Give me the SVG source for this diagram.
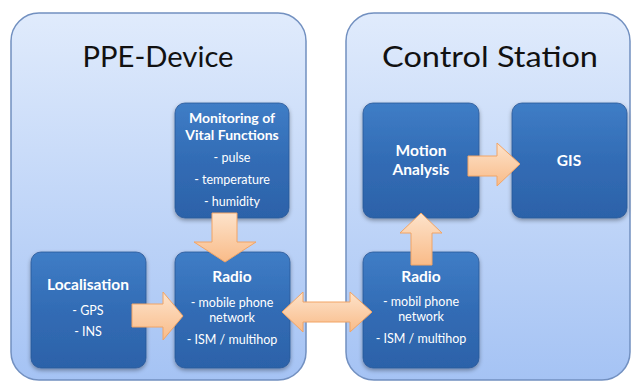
<svg xmlns="http://www.w3.org/2000/svg" width="632" height="382" viewBox="0 0 632 382">
<defs>
<linearGradient id="cg" x1="0" y1="0" x2="0" y2="1">
<stop offset="0" stop-color="#e0ebfc"/>
<stop offset="1" stop-color="#a5c3f4"/>
</linearGradient>
<linearGradient id="ng" x1="0" y1="0" x2="0" y2="1">
<stop offset="0" stop-color="#3f7dc6"/>
<stop offset="0.5" stop-color="#326cb5"/>
<stop offset="1" stop-color="#2c62a9"/>
</linearGradient>
<linearGradient id="ag" x1="0" y1="0" x2="0" y2="1">
<stop offset="0" stop-color="#fde3cb"/>
<stop offset="1" stop-color="#f9bb88"/>
</linearGradient>
<filter id="sh" x="-20%" y="-20%" width="140%" height="140%">
<feDropShadow dx="0" dy="2" stdDeviation="2" flood-color="#000" flood-opacity="0.35"/>
</filter>
</defs>
<style>
.cont{fill:url(#cg);stroke:#7290c0;stroke-width:1.5}
.node{fill:url(#ng);stroke:#2a5897;stroke-width:0.8;filter:url(#sh)}
.arr{fill:url(#ag);stroke:#f2a464;stroke-width:1}
.ttl{font-family:Lato,"Liberation Sans",sans-serif;font-size:28px;fill:#111;text-anchor:middle}
.h{font-family:Lato,"Liberation Sans",sans-serif;font-size:14px;font-weight:bold;fill:#fff;text-anchor:middle}
.hb{font-family:Lato,"Liberation Sans",sans-serif;font-size:15.5px;font-weight:bold;fill:#fff;text-anchor:middle}
.t{font-family:Lato,"Liberation Sans",sans-serif;font-size:12.5px;fill:#fff;text-anchor:middle}
</style>
<rect width="632" height="382" fill="#fff"/>
<g id="ppe-device">
<rect class="cont" x="11" y="13" width="295" height="367" rx="28"/>
<text class="ttl" x="158" y="67" textLength="151" lengthAdjust="spacingAndGlyphs">PPE-Device</text>
</g>
<g id="control-station">
<rect class="cont" x="346" y="13" width="284" height="367" rx="28"/>
<text class="ttl" x="490" y="67" textLength="216" lengthAdjust="spacingAndGlyphs">Control Station</text>
</g>
<g id="monitoring">
<rect class="node" x="175" y="103" width="114" height="115" rx="10"/>
<text class="h" x="232" y="123">Monitoring of</text>
<text class="h" x="232" y="140">Vital Functions</text>
<text class="t" x="232" y="162">-  pulse</text>
<text class="t" x="232" y="184">- temperature</text>
<text class="t" x="232" y="206">- humidity</text>
</g>
<g id="localisation">
<rect class="node" x="31" y="252" width="115" height="116" rx="10"/>
<text class="hb" x="88" y="290">Localisation</text>
<text class="t" x="88" y="315">- GPS</text>
<text class="t" x="88" y="336">- INS</text>
</g>
<g id="radio-ppe">
<rect class="node" x="175" y="252" width="115" height="116" rx="10"/>
<text class="hb" x="232" y="282">Radio</text>
<text class="t" x="232" y="307">- mobile phone</text>
<text class="t" x="232" y="322">network</text>
<text class="t" x="232" y="344">- ISM / multihop</text>
</g>
<g id="motion-analysis">
<rect class="node" x="363" y="103" width="116" height="115" rx="10"/>
<text class="hb" x="421" y="156">Motion</text>
<text class="hb" x="421" y="175">Analysis</text>
</g>
<g id="gis">
<rect class="node" x="512" y="103" width="115" height="115" rx="10"/>
<text class="hb" x="569" y="166">GIS</text>
</g>
<g id="radio-cs">
<rect class="node" x="363" y="252" width="116" height="116" rx="10"/>
<text class="hb" x="421" y="282">Radio</text>
<text class="t" x="421" y="306">- mobil phone</text>
<text class="t" x="421" y="321">network</text>
<text class="t" x="421" y="343">- ISM / multihop</text>
</g>
<g id="connectors">
<path class="arr" d="M212,213 H237 V242 H256 L225,262 L194,242 H212 Z"/>
<path class="arr" d="M132,304 H163 V292 L183,316 L163,340 V327 H132 Z"/>
<path class="arr" d="M282,312 L303,292 V302 H350 V292 L372,312 L350,332 V322 H303 V332 Z"/>
<path class="arr" d="M421,213 L442,233 H432 V265 H411 V233 H400 Z"/>
<path class="arr" d="M468,156 H497 V143 L520,164 L497,186 V176 H468 Z"/>
</g>
</svg>
